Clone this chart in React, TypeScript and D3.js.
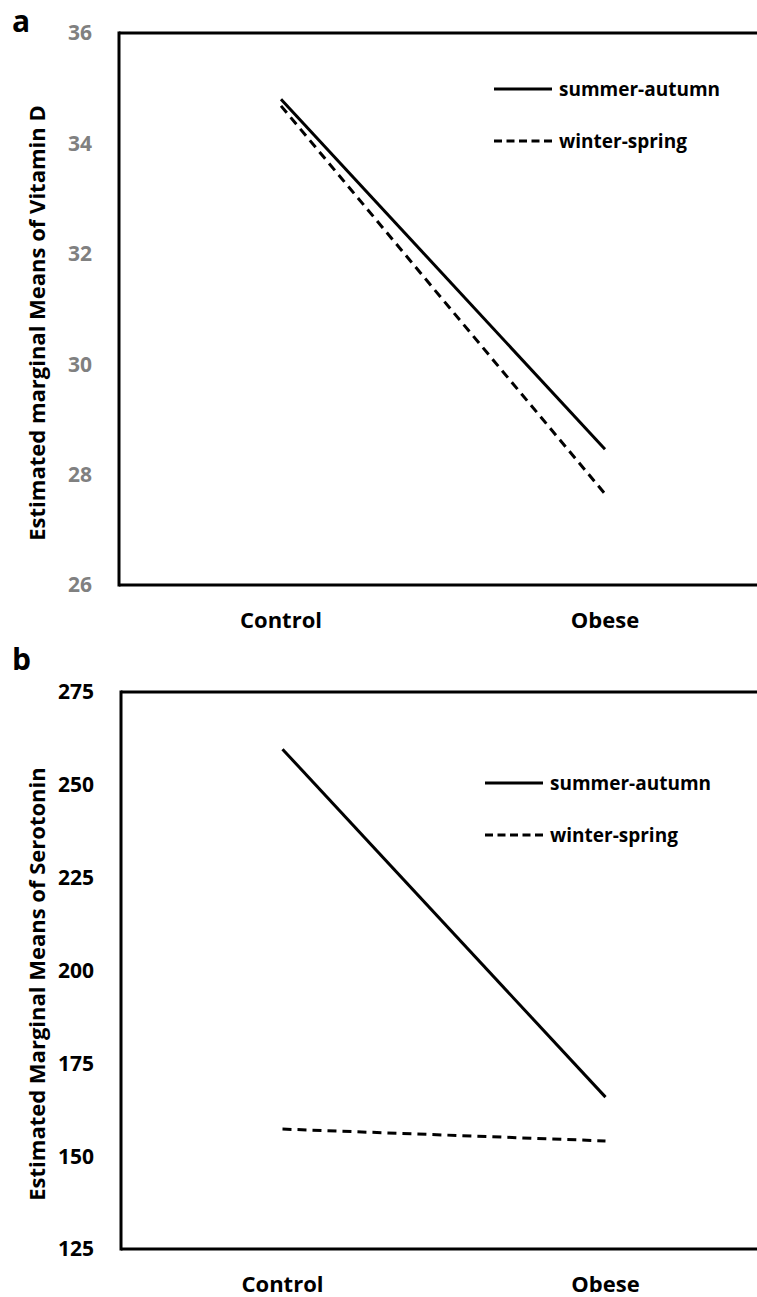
import React from "react";
import * as d3 from "d3";

const categories = ["Control", "Obese"];
const seriesNames = ["summer-autumn", "winter-spring"];
const vitDSummer = [34.8, 28.46];
const vitDWinter = [34.68, 27.65];
const serSummer = [259.6, 165.9];
const serWinter = [157.3, 154.1];
const vitDTicks = [26, 28, 30, 32, 34, 36];
const serTicks = [125, 150, 175, 200, 225, 250, 275];

const FONT = "'Open Sans', 'DejaVu Sans', sans-serif";
const W = 757;

type PanelProps = {
  letter: string;
  letterY: number;
  top: number;
  bottom: number;
  left: number;
  domain: [number, number];
  ticks: number[];
  tickColor: string;
  yLabel: string;
  yLabelCenter: number;
  summer: number[];
  winter: number[];
  legendX: number;
  legendY: number;
};

function Panel(p: PanelProps) {
  const x = d3.scalePoint<string>().domain(categories).range([p.left, 767]).padding(0.5);
  const y = d3.scaleLinear().domain(p.domain).range([p.bottom, p.top]);
  const line = d3
    .line<number>()
    .x((_, i) => x(categories[i]) as number)
    .y((d) => y(d));
  return (
    <g>
      <text x={12} y={p.letterY} fontFamily={FONT} fontWeight="bold" fontSize={30} fill="#000">
        {p.letter}
      </text>
      <line x1={p.left} x2={W} y1={p.top} y2={p.top} stroke="#000" strokeWidth={3} />
      <line x1={p.left} x2={W} y1={p.bottom} y2={p.bottom} stroke="#000" strokeWidth={3} />
      <line
        x1={p.left}
        x2={p.left}
        y1={p.top - 1.5}
        y2={p.bottom + 1.5}
        stroke="#000"
        strokeWidth={3}
      />
      {p.ticks.map((t) => (
        <text
          key={t}
          x={p.left - 27}
          y={y(t)}
          dy="0.35em"
          textAnchor="end"
          fontFamily={FONT}
          fontWeight="bold"
          fontSize={21}
          fill={p.tickColor}
        >
          {t}
        </text>
      ))}
      {categories.map((c) => (
        <text
          key={c}
          x={x(c)}
          y={p.bottom + 35}
          dy="0.35em"
          textAnchor="middle"
          fontFamily={FONT}
          fontWeight="bold"
          fontSize={22}
          fill="#000"
        >
          {c}
        </text>
      ))}
      <text
        transform={`translate(37,${p.yLabelCenter}) rotate(-90)`}
        textAnchor="middle"
        dy="0.35em"
        fontFamily={FONT}
        fontWeight="bold"
        fontSize={22}
        fill="#000"
      >
        {p.yLabel}
      </text>
      <path d={line(p.summer) || ""} fill="none" stroke="#000" strokeWidth={3} />
      <path
        d={line(p.winter) || ""}
        fill="none"
        stroke="#000"
        strokeWidth={3}
        strokeDasharray="9,6"
      />
      {seriesNames.map((s, i) => {
        const ly = p.legendY + i * 52;
        return (
          <g key={s}>
            <line
              x1={p.legendX}
              x2={p.legendX + 58}
              y1={ly}
              y2={ly}
              stroke="#000"
              strokeWidth={3}
              strokeDasharray={i === 1 ? "8,4.5" : undefined}
            />
            <text
              x={p.legendX + 65}
              y={ly}
              dy="0.35em"
              fontFamily={FONT}
              fontWeight="bold"
              fontSize={19}
              fill="#000"
            >
              {s}
            </text>
          </g>
        );
      })}
    </g>
  );
}

export default function App() {
  return (
    <svg
      width={W}
      height={1297}
      style={{ position: "absolute", left: 0, top: 0, background: "#fff" }}
    >
      <rect width={W} height={1297} fill="#fff" />
      <Panel
        letter="a"
        letterY={32}
        top={33}
        bottom={585}
        left={119}
        domain={[26, 36]}
        ticks={vitDTicks}
        tickColor="#808080"
        yLabel="Estimated marginal Means of Vitamin D"
        yLabelCenter={323}
        summer={vitDSummer}
        winter={vitDWinter}
        legendX={494}
        legendY={89}
      />
      <Panel
        letter="b"
        letterY={670}
        top={692}
        bottom={1249}
        left={121}
        domain={[125, 275]}
        ticks={serTicks}
        tickColor="#000"
        yLabel="Estimated Marginal Means of Serotonin"
        yLabelCenter={984}
        summer={serSummer}
        winter={serWinter}
        legendX={485}
        legendY={783}
      />
    </svg>
  );
}
